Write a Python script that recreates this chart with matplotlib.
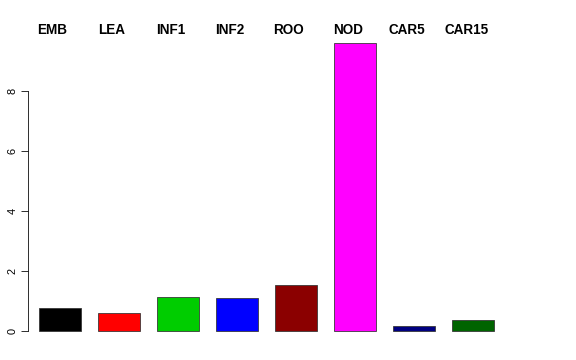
import matplotlib
matplotlib.use("Agg")
from matplotlib import pyplot as plt

plt.rcParams['font.family'] = ['Liberation Sans', 'DejaVu Sans']

# values
tissues = ['EMB', 'LEA', 'INF1', 'INF2', 'ROO', 'NOD', 'CAR5', 'CAR15']
values = [0.76, 0.6, 1.13, 1.1, 1.56, 9.6, 0.18, 0.37]
colors = ['black', 'red', '#00CD00', 'blue', '#8B0000', 'magenta', '#000080', '#006400']
yticks = [0, 2, 4, 6, 8]

W, H = 576, 360
fig = plt.figure(figsize=(W / 72, H / 72), dpi=72)

# axes placed in pixel terms to mimic the R plot region
left, right, top, bottom = 28.0, 505.0, 31.9, 342.8
ax = fig.add_axes([left / W, 1 - bottom / H, (right - left) / W, (bottom - top) / H])

xs = list(range(len(tissues)))
ax.bar(xs, values, width=0.71, color=colors, edgecolor='#333333', linewidth=0.8)

ax.set_xlim(-0.533, len(tissues) - 1 + 0.533)
ax.set_ylim(-0.384, 9.984)

for side in ['top', 'right', 'bottom']:
    ax.spines[side].set_visible(False)
ax.spines['left'].set_bounds(0, 8)
ax.spines['left'].set_linewidth(0.8)
ax.set_xticks([])
ax.set_yticks(yticks)
ax.set_yticklabels([str(t) for t in yticks], rotation=90, va='center', fontsize=11)
ax.tick_params(axis='y', length=7.5, width=0.8, pad=3)

# names along the top, like an R horizontal legend
for i, name in enumerate(tissues):
    fig.text((52 + 59.2 * i) / W, 1 - 30 / H, name, ha='center', va='center',
             fontsize=13.5, fontweight='bold')

fig.savefig('out.png', dpi=72)
